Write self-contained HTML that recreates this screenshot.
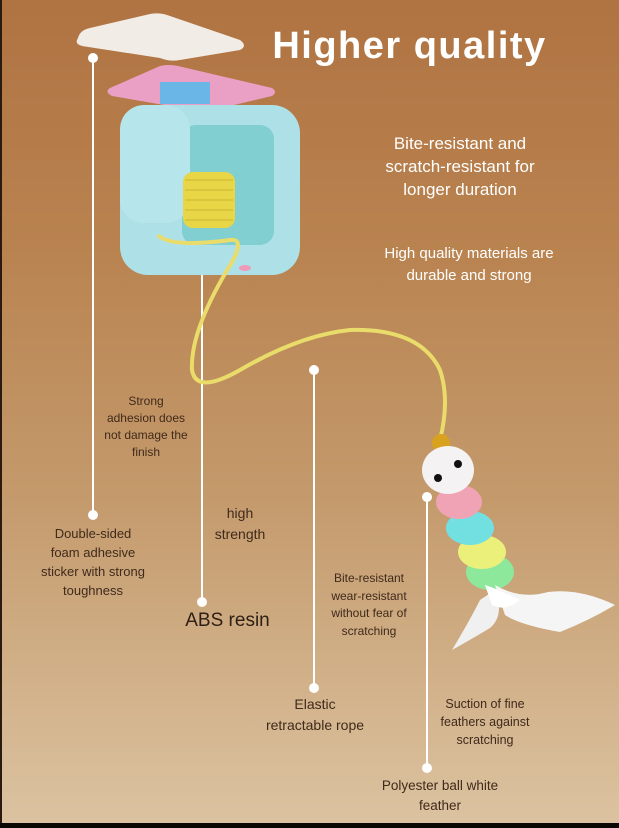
<!DOCTYPE html>
<html><head><meta charset="utf-8"><style>
html,body{margin:0;padding:0}
body{width:619px;height:828px;position:relative;overflow:hidden;background:linear-gradient(180deg,#b07342 0%,#b98350 30%,#c49a6c 60%,#d6b994 90%,#dcc3a1 100%);font-family:"Liberation Sans","DejaVu Sans",sans-serif}
.t{position:absolute;text-align:center;color:#3f2a1b;font-size:13px;line-height:18px}
.w{position:absolute;text-align:center;color:#fff;font-size:16px;line-height:23px}
</style></head><body>
<svg width="619" height="828" style="position:absolute;left:0;top:0">
<rect x="0" y="0" width="2" height="828" fill="#2a1a10"/>
<g stroke="#fff" stroke-width="2" fill="#fff">
<line x1="93" y1="58" x2="93" y2="515"/><circle cx="93" cy="58" r="4"/><circle cx="93" cy="515" r="4"/>
<line x1="202" y1="268" x2="202" y2="602"/><circle cx="202" cy="268" r="4"/><circle cx="202" cy="602" r="4"/>
<line x1="314" y1="370" x2="314" y2="688"/><circle cx="314" cy="370" r="4"/><circle cx="314" cy="688" r="4"/>
<line x1="427" y1="497" x2="427" y2="768"/><circle cx="427" cy="497" r="4"/><circle cx="427" cy="768" r="4"/>
</g>
<path d="M78 38 Q80 30 90 28 L150 14 Q160 12 170 16 L240 40 Q248 46 240 50 L180 60 Q170 62 160 58 L82 46 Q74 44 78 38Z" fill="#f2ece6"/>
<path d="M110 88 L160 66 Q168 64 178 66 L272 88 Q278 92 272 96 L205 112 L112 96 Q104 92 110 88Z" fill="#eaa0c4"/>
<rect x="160" y="82" width="50" height="22" fill="#6ab6e6"/>
<rect x="120" y="105" width="180" height="170" rx="28" fill="#aee0e8"/>
<rect x="182" y="125" width="92" height="120" rx="14" fill="#82cfd2"/>
<rect x="120" y="105" width="70" height="118" rx="24" fill="#b7e5ec"/>
<rect x="183" y="172" width="52" height="56" rx="10" fill="#e8d646"/>
<g stroke="#c9b532" stroke-width="1">
<line x1="185" y1="180" x2="233" y2="180"/><line x1="185" y1="190" x2="233" y2="190"/><line x1="185" y1="200" x2="233" y2="200"/><line x1="185" y1="210" x2="233" y2="210"/><line x1="185" y1="220" x2="233" y2="220"/></g>
<ellipse cx="245" cy="268" rx="6" ry="3" fill="#ef9ab8"/>
<path d="M158 235 Q170 248 230 240 Q245 238 232 262 Q190 330 192 370 Q196 395 240 370 Q300 335 350 330 Q420 328 440 370 Q450 400 440 440" fill="none" stroke="#e9dc6a" stroke-width="4"/>
<circle cx="441" cy="443" r="9" fill="#d9a21e"/>
<ellipse cx="490" cy="572" rx="24" ry="18" fill="#8de89c"/>
<ellipse cx="482" cy="552" rx="24" ry="17" fill="#eaf07a"/>
<ellipse cx="470" cy="528" rx="24" ry="17" fill="#72e0e0"/>
<ellipse cx="459" cy="502" rx="23" ry="17" fill="#f0a3b4"/>
<ellipse cx="448" cy="470" rx="26" ry="24" fill="#f4f2f2"/>
<circle cx="438" cy="478" r="4" fill="#111"/><circle cx="458" cy="464" r="4" fill="#111"/>
<path d="M495 585 Q520 600 548 592 Q580 588 615 605 Q590 620 560 632 Q520 625 505 615 Z" fill="#f5f5f5"/>
<path d="M495 590 Q505 615 490 628 Q470 640 452 650 Q470 620 480 600 Z" fill="#f0f0f0"/>
<path d="M485 585 Q500 590 520 600 Q505 612 492 605 Z" fill="#fff"/>
</svg>
<div class="w" style="left:262px;top:22px;width:295px;font-size:38px;line-height:48px;font-weight:bold;letter-spacing:1.5px">Higher quality</div>
<div class="w" style="left:360px;top:132px;width:200px;font-size:17px">Bite-resistant and<br>scratch-resistant for<br>longer duration</div>
<div class="w" style="left:355px;top:243px;width:228px;font-size:15px;line-height:22px">High quality materials are<br>durable and strong</div>
<div class="t" style="left:90px;top:393px;width:112px;font-size:12px;line-height:17px">Strong<br>adhesion does<br>not damage the<br>finish</div>
<div class="t" style="left:28px;top:524px;width:130px;line-height:19px">Double-sided<br>foam adhesive<br>sticker with strong<br>toughness</div>
<div class="t" style="left:200px;top:503px;width:80px;font-size:14px;line-height:21px">high<br>strength</div>
<div class="t" style="left:170px;top:609px;width:115px;font-size:19px;line-height:24px;color:#2e2016">ABS resin</div>
<div class="t" style="left:314px;top:570px;width:110px;font-size:12px;line-height:17.5px">Bite-resistant<br>wear-resistant<br>without fear of<br>scratching</div>
<div class="t" style="left:250px;top:694px;width:130px;font-size:14px;line-height:21px">Elastic<br>retractable rope</div>
<div class="t" style="left:425px;top:695px;width:120px;font-size:12.5px;line-height:18px">Suction of fine<br>feathers against<br>scratching</div>
<div class="t" style="left:360px;top:776px;width:160px;font-size:13.5px;line-height:20px">Polyester ball white<br>feather</div>
<div style="position:absolute;left:0;top:823px;width:619px;height:5px;background:#0b0704"></div>
</body></html>
